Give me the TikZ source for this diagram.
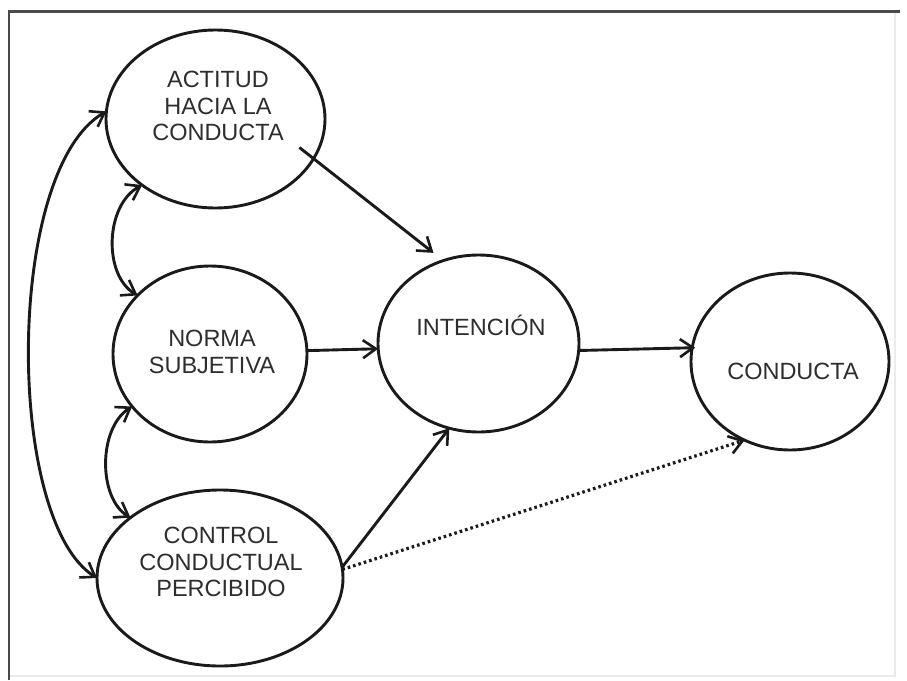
\documentclass[tikz,border=0pt]{standalone}
\usepackage{fontspec}
\setmainfont{Liberation Sans}
\usetikzlibrary{shapes.geometric,arrows.meta}
\definecolor{inkline}{HTML}{1A1A1A}
\definecolor{inktext}{HTML}{2E2E2E}
\definecolor{framecol}{HTML}{4A4A4A}
\definecolor{faintcol}{HTML}{EBEBEB}
\tikzset{
  oval/.style={ellipse, draw=inkline, line width=2.9pt, outer sep=0pt, inner sep=0pt},
  lbl/.style={text=inktext, align=center, font=\fontsize{23.5}{26.5}\selectfont, inner sep=0pt},
  tipbarb/.tip={Straight Barb[length=13pt,width=18pt,line width=2.6pt]},
  arr/.style={draw=inkline, line width=2.9pt, -{tipbarb}},
  darr/.style={draw=inkline, line width=2.9pt, {tipbarb}-{tipbarb}},
  dotline/.style={draw=inkline, line width=3.2pt, dash pattern=on 2.6pt off 3pt, -{Straight Barb[length=13pt,width=18pt,line width=2.6pt]}}
}
\begin{document}
\begin{tikzpicture}[x=1pt,y=-1pt]
\useasboundingbox (0,0) rectangle (907,680);
\fill[white] (0,0) rectangle (907,680);
% frame
\draw[faintcol, line width=1.5pt] (895,12) -- (895,676) -- (9,676);
\draw[framecol, line width=2.2pt] (9,680) -- (9,11.5) -- (900,11.5);

% ellipses
\node[oval, minimum width=219pt, minimum height=178pt] (act) at (215.5,119) {};
\node[oval, minimum width=194pt, minimum height=176pt] (nor) at (210,354) {};
\node[oval, minimum width=246pt, minimum height=176pt] (ctl) at (220,578) {};
\node[oval, minimum width=201pt, minimum height=177pt] (int) at (478.5,343.5) {};
\node[oval, minimum width=198pt, minimum height=177pt] (con) at (790,361.5) {};

% labels
\node[lbl] (tact) at (218,106) {ACTITUD\\HACIA LA\\CONDUCTA};
\node[lbl] (tnor) at (212,352) {NORMA\\SUBJETIVA};
\node[lbl] (tctl) at (221,562) {CONTROL\\CONDUCTUAL\\PERCIBIDO};
\node[lbl] (tint) at (481,325) {INTENCIÓN};
\node[lbl] (tcon) at (793,371) {CONDUCTA};

% straight arrows
\draw[arr, shorten <=-18pt, shorten >=12.5pt] (act.338) -- (int.113);
\draw[arr] (nor.2.4) -- (int.183.7);
\draw[arr] (ctl.5) -- (int.251.4);
\draw[arr, shorten >=-3pt] (int.356.9) -- (con.172.7);
\draw[dotline] (ctl.4) -- (con.240);

% curved double arrows
\draw[darr] (act.222.4) .. controls (105,205) and (103,275) .. (nor.141.6);
\draw[darr] (nor.214) .. controls (98,428) and (98,498) .. (ctl.146.3);
\draw[darr] (act.176.9) .. controls (5,170) and (5,520) .. (ctl.180);
\end{tikzpicture}
\end{document}
